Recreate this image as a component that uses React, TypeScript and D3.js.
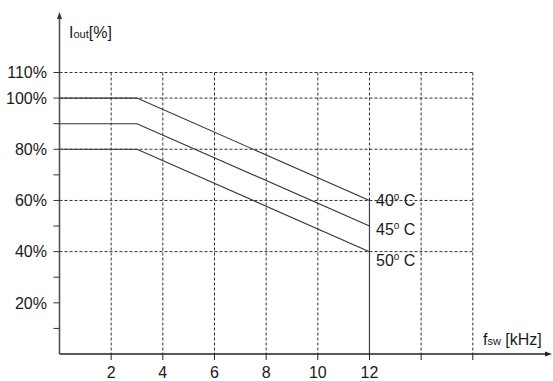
import React from "react";
import * as d3 from "d3";

const freqPoints = [0, 3, 12];
const series40 = [100, 100, 60];
const series45 = [90, 90, 50];
const series50 = [80, 80, 40];
const seriesLabels = ["40", "45", "50"];
const yTickLabels = [20, 40, 60, 80, 100, 110];
const yMinorTicks = [10, 20, 30, 40, 50, 60, 70, 80, 90, 100, 110];
const yGrid = [40, 60, 80, 100, 110];
const xTickLabels = [2, 4, 6, 8, 10, 12];
const xTicks = [2, 4, 6, 8, 10, 12, 14, 16];

const W = 553;
const H = 381;
const FONT = "'Liberation Sans', Arial, sans-serif";

export default function App() {
  const x = d3.scaleLinear().domain([0, 16]).range([59.5, 472.8]);
  const y = d3.scaleLinear().domain([0, 110]).range([354, 72.5]);
  const line = d3
    .line<[number, number]>()
    .x((d) => x(d[0]))
    .y((d) => y(d[1]));
  const allSeries = [series40, series45, series50];
  const axisColor = "#555";
  const gridColor = "#333";
  const x0 = x(0);
  const y0 = y(0);

  return (
    <div style={{ position: "absolute", left: 0, top: 0 }}>
      <svg width={W} height={H} style={{ display: "block", background: "#fff" }}>
        {/* grid */}
        {xTicks.map((t) => (
          <line
            key={"gx" + t}
            x1={x(t)}
            x2={x(t)}
            y1={y(110)}
            y2={y0}
            stroke={gridColor}
            strokeWidth={1}
            strokeDasharray="3,2"
          />
        ))}
        {yGrid.map((t) => (
          <line
            key={"gy" + t}
            x1={x0}
            x2={x(16)}
            y1={y(t)}
            y2={y(t)}
            stroke={gridColor}
            strokeWidth={1}
            strokeDasharray="3,2"
          />
        ))}
        {/* solid limit at 12 kHz */}
        <line x1={x(12)} x2={x(12)} y1={y(60)} y2={y0} stroke="#444" strokeWidth={1.2} />
        {/* series */}
        {allSeries.map((s, i) => (
          <path
            key={"s" + i}
            d={line(freqPoints.map((f, j) => [f, s[j]]) as [number, number][]) || ""}
            fill="none"
            stroke="#333"
            strokeWidth={1.1}
          />
        ))}
        {/* axes */}
        <line x1={x0} x2={x0} y1={y0} y2={16} stroke={axisColor} strokeWidth={1.6} />
        <path d={`M${x0 - 2.5},${19} L${x0},${12} L${x0 + 2.5},${19} Z`} fill="#333" />
        <line x1={x0} x2={547} y1={y0} y2={y0} stroke="#222" strokeWidth={1.3} />
        <path d={`M${545},${y0 - 2.5} L${552},${y0} L${545},${y0 + 2.5} Z`} fill="#222" />
        {yMinorTicks.map((t) => (
          <line key={"yt" + t} x1={x0 - 6} x2={x0} y1={y(t)} y2={y(t)} stroke="#333" strokeWidth={1} />
        ))}
        {xTicks.map((t) => (
          <line key={"xt" + t} x1={x(t)} x2={x(t)} y1={y0} y2={y0 + 6} stroke="#222" strokeWidth={1} />
        ))}
        {/* tick labels */}
        {yTickLabels.map((t) => (
          <text
            key={"yl" + t}
            x={47}
            y={y(t)}
            dy="0.36em"
            textAnchor="end"
            fontFamily={FONT}
            fontSize={16}
            fill="#1a1a1a"
          >
            {t}%
          </text>
        ))}
        {xTickLabels.map((t) => (
          <text
            key={"xl" + t}
            x={x(t)}
            y={377.5}
            textAnchor="middle"
            fontFamily={FONT}
            fontSize={16}
            fill="#1a1a1a"
          >
            {t}
          </text>
        ))}
        {/* axis titles */}
        <text x={69} y={38} fontFamily={FONT} fontSize={16} fill="#1a1a1a">
          I<tspan fontSize={11}>out</tspan>[%]
        </text>
        <text x={483} y={345} fontFamily={FONT} fontSize={16} fill="#1a1a1a">
          f<tspan fontSize={11}>sw</tspan> [kHz]
        </text>
        {/* series labels */}
        {allSeries.map((s, i) => (
          <text
            key={"lab" + i}
            x={376}
            y={y(s[2]) + [0, 3, 9][i]}
            dy="0.36em"
            fontFamily={FONT}
            fontSize={16}
            fill="#1a1a1a"
          >
            {seriesLabels[i]}
            <tspan fontSize={10} dy="-6">o</tspan>
            <tspan dy="6"> C</tspan>
          </text>
        ))}
      </svg>
    </div>
  );
}
